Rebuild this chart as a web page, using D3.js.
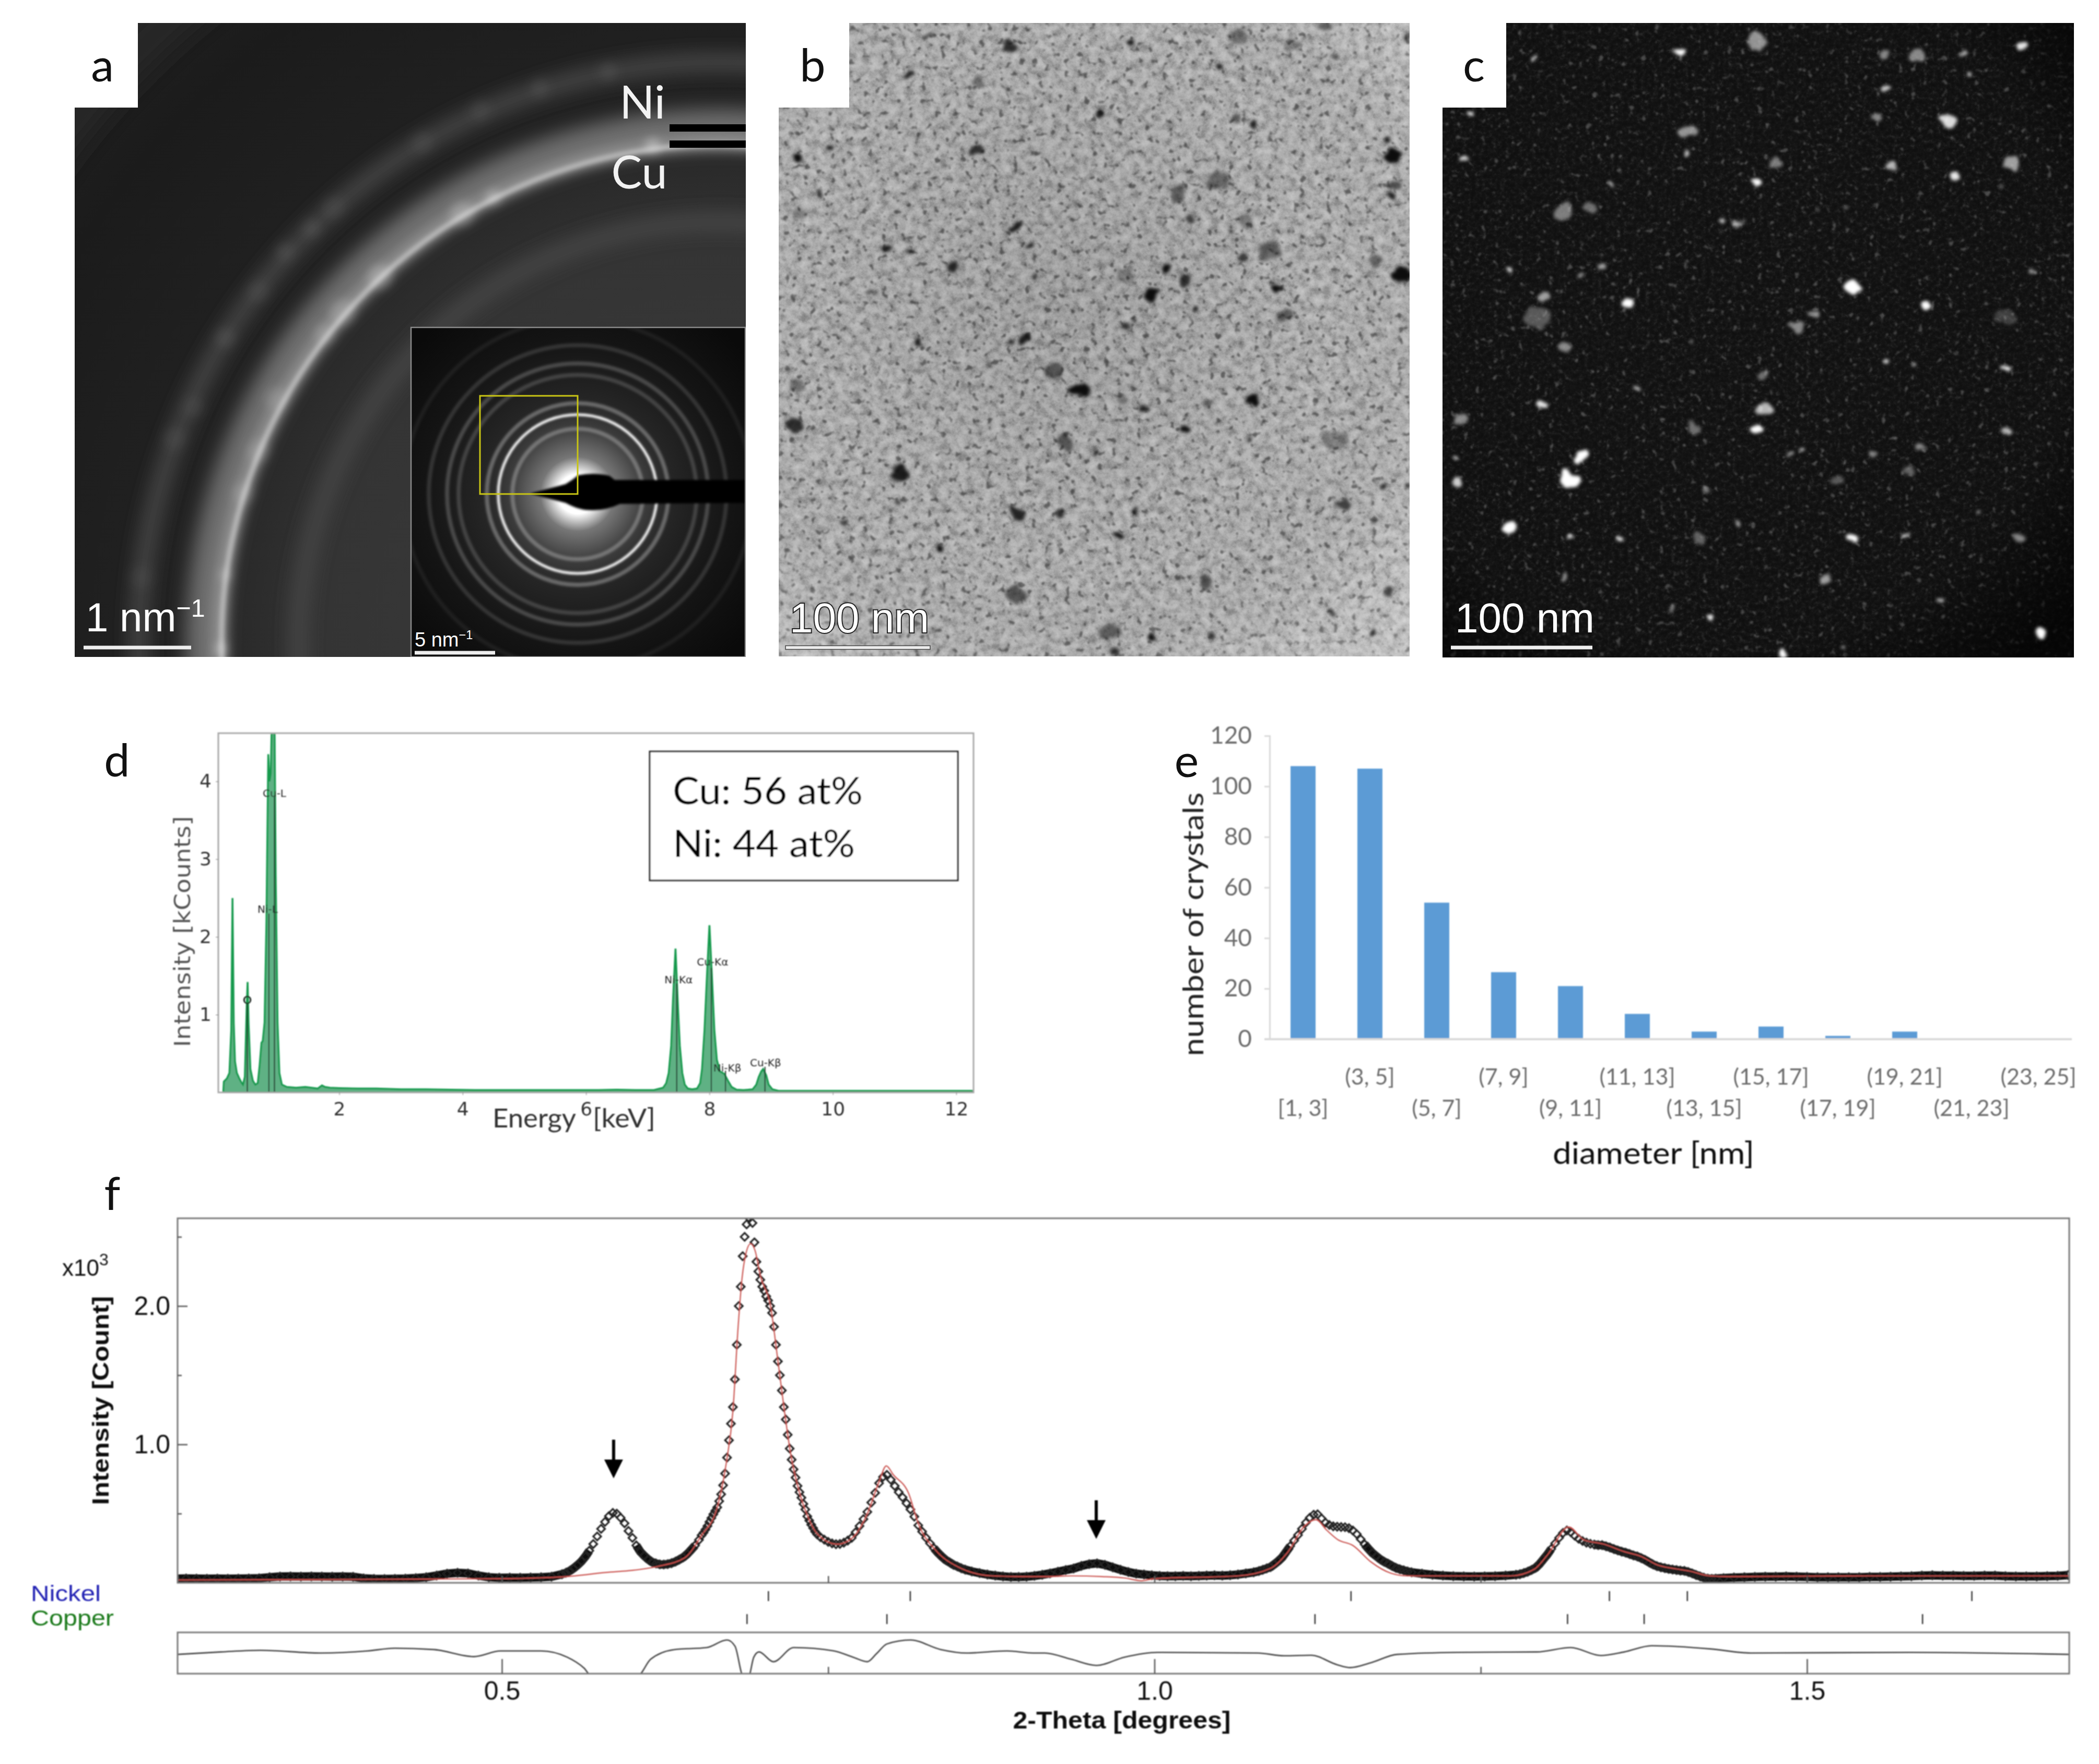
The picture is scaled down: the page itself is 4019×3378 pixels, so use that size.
<!DOCTYPE html>
<html>
<head>
<meta charset="utf-8">
<script src="https://cdn.jsdelivr.net/npm/d3@7"></script>
<style>
	html, body { margin: 0; padding: 0; background: #fff; }
	svg { display: block; }
	text { font-family: Lato, sans-serif; }
	.arial text, text.arial { font-family: "Liberation Sans", Arial, sans-serif; }
</style>
</head>
<body>
<div id="chart"></div>
<script>
// panel d: EDX spectrum
var specEnergy = [.12,.13,.18,.22,.25,.27,.29,.31,.34,.38,.42,.44,.47,.5,.515,.53,.56,.6,.64,.68,.71,.74,.76,.79,.82,.85,.87,.89,.91,.93,.95,.97,1,1.03,1.07,1.15,1.3,1.45,1.55,1.65,1.72,1.77,1.85,2,2.3,2.6,3,3.4,3.8,4.2,4.6,5,5.4,5.8,6.2,6.5,6.8,7.1,7.25,7.3,7.34,7.38,7.41,7.45,7.49,7.52,7.56,7.6,7.65,7.72,7.8,7.85,7.88,7.92,7.96,8,8.04,8.08,8.12,8.17,8.24,8.3,8.36,8.44,8.55,8.7,8.76,8.8,8.84,8.87,8.92,8.96,9.02,9.12,9.5,10,11,12,12.28];
var specCounts = [0,.14,.18,.25,.8,2.5,.9,.4,.25,.18,.12,.1,.2,1.1,1.42,.9,.3,.15,.1,.12,.35,.64,.66,.9,2.2,4.35,4,4.1,4.9,5.2,4.9,2.8,.9,.25,.1,.07,.06,.07,.06,.05,.09,.07,.06,.055,.05,.05,.04,.04,.035,.03,.03,.03,.03,.03,.03,.035,.03,.03,.06,.12,.25,.6,1.2,1.85,1.1,.6,.25,.1,.05,.04,.05,.12,.3,.8,1.5,2.15,1.5,.8,.42,.27,.24,.15,.07,.035,.03,.04,.1,.2,.27,.3,.22,.1,.04,.02,.02,.02,.02,.02,.02];
var lineNames = ['O', 'Ni-L', 'Cu-L', 'Ni-K\u03b1', 'Cu-K\u03b1', 'Ni-K\u03b2', 'Cu-K\u03b2'];
var lineEnergy = [.51, .86, .95, 7.47, 8.03, 8.26, 8.9];
var lineTop = [1.15, 2.3, 3.8, 1.4, 1.6, .28, .33];
var lineLabelX = [.51, .84, .95, 7.5, 8.05, 8.29, 8.91];
var lineLabelY = [1.19, 2.36, 3.85, 1.45, 1.68, .316, .386];

// panel e: size histogram
var sizeBins = ['[1, 3]','(3, 5]','(5, 7]','(7, 9]','(9, 11]','(11, 13]','(13, 15]','(15, 17]','(17, 19]','(19, 21]','(21, 23]','(23, 25]'];
var sizeCounts = [108, 107, 54, 26.5, 21, 10, 3, 5, 1.3, 3, 0, 0];

var obsFlat1 = [.030,.031,.030,.029,.030,.029,.030,.031,.033,.040,.045,.046,.045,.046,.045,.044,.045,.043,.032,.028,.027,.028,.030,.034,.040,.052,.066,.072,.068,.052,.040,.036,.037,.036,.038,.040,.044];
var obsPeak1 = [.062,.072,.086,.105,.128,.155,.190,.232,.280,.335,.390,.440,.482,.505,.500,.470,.430,.375,.325,.270,.225,.195,.170,.150,.140,.133,.132,.135,.142,.153,.168,.184,.208,.238,.270,.310];
var obsMain = [.343,.362,.385,.410,.440,.468,.495,.520,.545,.590,.640,.705,.790,.905,1.03,1.15,1.27,1.47,1.72,2.00,2.14,2.36,2.50,2.59,2.64,2.68,2.60,2.46,2.32,2.25,2.19,2.14,2.11,2.07,2.04,2.00,1.95,1.85,1.72,1.60,1.50,1.39,1.27,1.18,1.07,.97,.89,.82,.76,.70,.655,.615,.570,.530,.480,.450,.420,.395,.370,.350];
var obsPeak2 = [.330,.312,.296,.285,.279,.281,.290,.305,.325,.365,.410,.460,.512,.580,.650,.720,.765,.780,.745,.700,.655,.618,.575,.530,.478,.415,.370,.325,.285,.250,.218,.190,.165,.148,.130,.118,.105,.095];
var obsBump = [.082,.070,.060,.052,.046,.042,.042,.044,.050,.058,.068,.080,.092,.103,.122,.135,.140,.130,.112,.094,.078,.066,.060,.054,.050,.048,.048,.050,.048,.050,.052,.054,.052,.055,.060,.068,.076];
var obsPeak3 = [.085,.094,.104,.114,.135,.158,.185,.225,.265,.305,.345,.390,.435,.470,.492,.495,.465,.435,.418,.408,.405,.403,.402,.395,.378,.352,.315,.278,.245,.215,.192,.170,.152,.138,.122,.108,.098,.090,.082,.076];
var obsFlat2 = [.066,.058,.052,.048,.046,.045,.046,.048,.052,.058];
var obsPeak4 = [.062,.070,.080,.093,.108,.135,.170,.204,.245,.285,.325,.360,.378,.365,.340,.318,.302,.290,.282,.276,.272,.272,.264,.255,.244,.234,.225,.218,.208,.198,.190,.178,.165,.148,.132,.120,.112,.106,.100,.096,.092,.088,.086,.078,.068,.056,.046,.036,.030,.028,.030];
var obsFlat3 = [.034,.038,.040,.042,.044,.044,.046,.044,.042,.040,.040,.040,.040,.040,.042,.042,.044,.046,.048,.052,.054,.052,.052,.050,.050,.052,.052,.048,.046,.046,.046,.048,.050,.056];

// panel f: fitted curve
var calcTheta = [.2515,.4,.5,.55,.58,.6,.62,.64,.653,.665,.672,.677,.681,.684,.687,.6905,.694,.698,.706,.711,.7165,.7213,.728,.734,.742,.757,.768,.78,.789,.7945,.80,.8117,.819,.8325,.8485,.876,.90,.92,.936,.96,.977,.99,1.0,1.064,1.089,1.102,1.115,1.1237,1.132,1.1403,1.152,1.166,1.181,1.194,1.273,1.291,1.301,1.3175,1.329,1.344,1.36,1.373,1.385,1.40,1.41,1.425,1.44,1.55,1.7009];
var calcValues = [.02,.025,.03,.045,.075,.09,.12,.18,.343,.545,.87,1.24,1.85,2.2,2.38,2.45,2.4,2.22,1.99,1.64,1.24,.93,.653,.487,.35,.279,.32,.5,.73,.845,.78,.645,.43,.234,.12,.05,.045,.045,.05,.045,.035,.015,.03,.05,.105,.22,.41,.456,.38,.313,.27,.15,.07,.05,.05,.098,.2,.403,.31,.28,.225,.19,.13,.1,.085,.05,.045,.05,.05];

// panel f: residual
var diffTheta = [.2515,.285,.315,.361,.397,.418,.448,.4785,.499,.53,.55,.563,.569,.6036,.614,.632,.657,.6725,.6786,.685,.689,.693,.697,.708,.7236,.754,.769,.78,.787,.795,.813,.836,.856,.887,.907,.9158,.936,.9556,.977,1.0026,1.079,1.0995,1.12,1.14,1.15,1.166,1.186,1.232,1.293,1.319,1.342,1.36,1.381,1.426,1.457,1.579,1.7009];
var diffValues = [-.01,.008,.02,0,.015,.035,.025,-.026,.015,.015,-.03,-.11,-.17,-.17,-.045,.025,.04,.095,.05,-.17,-.17,-.03,.008,-.063,.04,.016,-.03,-.063,-.005,.066,.095,.026,0,.015,0,0,-.045,-.09,-.03,.005,0,-.02,-.016,-.085,-.106,-.07,-.01,.005,.008,.04,-.018,.008,.053,.03,0,.005,-.01];

// panel f: reflection positions and arrows
var nickelTicks = [.7042, .8129, 1.1506, 1.3486, 1.4083, 1.6263];
var copperTicks = [.6878, .795, 1.123, 1.3165, 1.3752, 1.5885];
var arrowTheta = [.5856, .9554];
var arrowTip = [.755, .317];

// panels a, b, c: micrograph features, [x, y, radius, strength] in crop readings
var ringsWide = [805, 965, 1111, 1590];
var ringsInset = [125, 152, 174, 228, 250, 285, 335];
var ringsInsetTone = [.28, 1, .3, .16, .2, .13, .06];
var ringLumps = [[1065,185,18,.06],[1220,145,18,.06],[930,238,20,.05],[800,315,22,.05],[600,470,22,.05],[550,520,18,.07],[490,575,18,.07],[430,670,22,.05],[355,780,20,.07],[285,945,20,.05],[240,1020,22,.05],[165,1350,22,.04],[960,445,14,.28],[890,485,24,.2],[705,635,24,.22],[620,720,26,.16],[580,770,20,.14],[470,925,22,.12],[430,1050,22,.12],[395,1150,20,.12],[355,1345,10,.25],[345,1520,10,.4],[1320,322,14,.35]];
var darkSpots = [[860,62,12,.9],[570,75,14,.8],[372,47,8,.7],[325,140,9,.9],[272,122,5,.8],[490,160,18,.4],[1075,122,7,.9],[1120,50,22,.4],[1250,70,20,.3],[1330,25,14,.5],[1350,100,9,.6],[1520,50,10,.6],[785,238,12,.9],[1155,258,10,.9],[1110,250,15,.5],[1478,300,8,1],[1488,337,20,1],[1495,405,12,.6],[1485,432,10,.9],[1070,395,25,.45],[972,430,20,.5],[1005,488,14,.7],[1135,495,16,.35],[1200,565,26,.45],[1130,585,11,.7],[1318,535,5,.9],[1095,520,5,.8],[1445,590,18,.45],[1510,622,22,1],[1020,705,10,1],[1210,663,10,1],[910,675,16,1],[948,612,14,1],[990,638,12,.8],[870,725,7,1],[850,748,12,.7],[605,778,14,.9],[572,786,8,1],[515,845,6,.9],[678,852,25,.55],[740,900,22,1],[890,945,10,.9],[1150,925,12,1],[990,992,12,1],[1152,1024,6,.9],[770,1050,7,1],[705,1025,20,.55],[305,1105,22,.9],[55,983,22,.8],[60,890,20,.4],[585,1195,18,.85],[695,1198,12,.8],[875,1188,8,1],[835,1250,8,1],[400,1282,10,1],[282,1192,7,.9],[300,1166,6,.9],[170,1218,12,.7],[1370,1175,14,.7],[1465,1128,7,.9],[1480,1385,14,.7],[1445,1218,9,.6],[1438,1478,10,.9],[1040,1365,18,.6],[580,1395,28,.55],[810,1480,22,.5],[820,1530,9,.8],[910,1498,6,1],[1060,1495,8,.8],[1345,1430,10,.7],[1525,1130,7,1],[65,345,10,1],[140,318,8,1],[490,325,16,.8],[340,415,6,1],[112,430,7,.8],[585,510,12,.9],[610,555,8,1],[325,565,12,.7],[430,605,12,.85],[275,565,9,.9],[65,480,18,.3],[630,630,8,.8],[850,625,25,.3],[1230,720,20,.5],[1350,1020,30,.3],[1045,930,15,.4],[940,900,15,.25],[840,920,18,.35],[350,785,8,.9],[240,670,8,.6]];
var brightSpots = [[585,85,14,1],[765,62,22,.55],[230,97,8,.8],[1155,100,20,.5],[1075,95,12,.5],[1410,72,12,.9],[1262,92,6,.7],[1280,142,8,.8],[1080,180,10,.8],[1230,252,22,.85],[1060,245,10,.5],[605,275,18,.55],[600,330,10,.8],[70,343,7,.8],[85,232,8,1],[765,395,11,1],[420,408,7,.9],[815,355,14,.45],[1095,360,12,.7],[1380,355,18,.6],[1245,388,9,.9],[1365,405,7,.5],[310,470,20,.45],[370,465,16,.4],[725,497,14,.6],[685,492,8,.8],[985,460,6,.5],[910,465,5,.5],[175,608,7,.9],[400,608,12,.6],[352,625,8,.5],[260,675,14,.6],[245,725,32,.3],[310,800,18,.5],[465,688,14,1],[1000,650,22,1],[1178,695,12,1],[905,718,14,.55],[865,745,14,.5],[1365,725,25,.2],[783,865,10,.4],[785,948,16,.7],[768,992,15,1],[620,990,16,.4],[252,932,12,.9],[60,970,16,.5],[350,1060,14,1],[320,1115,26,1],[55,1122,10,.8],[52,1060,5,1],[175,1232,18,1],[325,1252,10,.8],[435,1258,10,.9],[1000,1255,16,1],[1125,1242,8,.8],[1398,1250,14,.5],[935,1357,14,.6],[660,1440,8,1],[1450,1488,14,1],[835,1532,12,1],[1215,1405,8,.7],[1368,995,12,.7],[1165,1035,10,.5],[1050,1058,12,.5],[878,1045,7,.9],[845,1052,5,.7],[1080,830,6,.9],[1150,843,5,.9],[1368,842,6,1],[1430,615,6,.6],[485,900,6,.9],[630,1252,14,.35],[728,1218,6,.6],[965,1120,16,.3],[1140,1095,14,.35],[1300,1192,6,.8],[305,1350,8,.6],[565,1428,7,.6],[975,1515,6,.9],[650,1140,7,.5],[615,782,4,.7]];

function stretch(start, step, values) {
	return values.map(function(v, i) { return [start + i * step, v]; });
}

var observed = [].concat(
	stretch(.25, .008, obsFlat1),
	stretch(.546, .003, obsPeak1),
	stretch(.653, .0015, obsMain),
	stretch(.744, .003, obsPeak2),
	stretch(.86, .006, obsBump),
	stretch(1.08, .003, obsPeak3),
	stretch(1.205, .008, obsFlat2),
	stretch(1.28, .003, obsPeak4),
	stretch(1.436, .008, obsFlat3)
);

var svg = d3.select('#chart').append('svg')
	.attr('width', 4019)
	.attr('height', 3378)
	.attr('viewBox', '0 0 4019 3378');
var defs = svg.append('defs');

function addBlur(id, dev) {
	defs.append('filter').attr('id', id)
		.attr('filterUnits', 'userSpaceOnUse')
		.attr('x', 0).attr('y', 0).attr('width', 4019).attr('height', 3378)
		.append('feGaussianBlur').attr('stdDeviation', dev);
}
addBlur('soft', 1.3);
addBlur('b4', 4);
addBlur('b9', 10);
addBlur('b14', 18);
addBlur('b28', 30);
addBlur('b2', 2.2);
addBlur('lump', 9);

// crystals are not round: roughen their outline, then soften it
(function() {
	var f = defs.append('filter').attr('id', 'rough')
		.attr('filterUnits', 'userSpaceOnUse')
		.attr('x', 0).attr('y', 0).attr('width', 4019).attr('height', 3378)
		.attr('color-interpolation-filters', 'sRGB');
	f.append('feTurbulence').attr('type', 'fractalNoise')
		.attr('baseFrequency', .035).attr('numOctaves', 2).attr('seed', 5).attr('result', 'n');
	f.append('feDisplacementMap').attr('in', 'SourceGraphic').attr('in2', 'n')
		.attr('scale', 26).attr('xChannelSelector', 'R').attr('yChannelSelector', 'G');
	f.append('feGaussianBlur').attr('stdDeviation', 3);
})();

function addGrain(id, freq, octaves, seed, table) {
	var f = defs.append('filter').attr('id', id)
		.attr('x', 0).attr('y', 0).attr('width', '100%').attr('height', '100%')
		.attr('color-interpolation-filters', 'sRGB');
	f.append('feTurbulence').attr('type', 'fractalNoise')
		.attr('baseFrequency', freq).attr('numOctaves', octaves).attr('seed', seed);
	f.append('feColorMatrix').attr('type', 'matrix')
		.attr('values', '1 0 0 0 0  1 0 0 0 0  1 0 0 0 0  0 0 0 0 1');
	var ct = f.append('feComponentTransfer');
	['feFuncR', 'feFuncG', 'feFuncB'].forEach(function(n) {
		ct.append(n).attr('type', 'table').attr('tableValues', table);
	});
}
// isolated grains: alpha opens only where the noise passes a threshold
function addSpecks(id, freq, seed, color, gain, offset) {
	var f = defs.append('filter').attr('id', id)
		.attr('x', 0).attr('y', 0).attr('width', '100%').attr('height', '100%')
		.attr('color-interpolation-filters', 'sRGB');
	f.append('feTurbulence').attr('type', 'fractalNoise')
		.attr('baseFrequency', freq).attr('numOctaves', 2).attr('seed', seed);
	f.append('feColorMatrix').attr('type', 'matrix')
		.attr('values', [0, 0, 0, 0, color, 0, 0, 0, 0, color, 0, 0, 0, 0, color, gain, 0, 0, 0, offset].join(' '));
	f.append('feGaussianBlur').attr('stdDeviation', 1.8);
}
addGrain('grainB', .06, 4, 7, '.50 .54 .58 .64 .69 .73 .76 .79 .81');
addGrain('grainC', .12, 3, 11, '.06 .06 .065 .07 .08 .095 .12 .16 .18');

function addClip(id, x, y, w, h) {
	defs.append('clipPath').attr('id', id).append('rect')
		.attr('x', x).attr('y', y).attr('width', w).attr('height', h);
}

function panelLetter(letter, x, y) {
	svg.append('text').text(letter)
		.attr('x', x).attr('y', y)
		.attr('font-size', 88)
		.attr('text-anchor', 'middle')
		.attr('fill', '#111');
}

function scaleBar(g, x0, x1, y, label, textX, textY, size, outlined) {
	g.append('rect').attr('x', x0).attr('y', y - 3.5).attr('width', x1 - x0).attr('height', 7)
		.attr('fill', '#eee').attr('stroke', outlined ? '#444' : 'none').attr('stroke-width', outlined ? 1.5 : 0);
	var t = g.append('text').attr('class', 'arial')
		.attr('x', textX).attr('y', textY)
		.attr('font-size', size)
		.attr('fill', '#fff');
	if (outlined) {
		t.attr('stroke', '#222').attr('stroke-width', 4).attr('paint-order', 'stroke');
	}
	t.append('tspan').text(label[0]);
	if (label[1]) {
		t.append('tspan').text(label[1]).attr('font-size', size * .62).attr('dy', -size * .36);
	}
}

// ---- panel a ----
(function() {
	var left = 143, right = 1428, top = 44, bottom = 1258;
	var cx = 1377, cy = 1230;
	addClip('clipA', left, top, right - left, bottom - top);
	var grad = defs.append('radialGradient').attr('id', 'gradA').attr('gradientUnits', 'userSpaceOnUse')
		.attr('cx', cx).attr('cy', cy).attr('r', 1800);
	[[0, '#3e3e3e'], [.42, '#343434'], [.58, '#222'], [.8, '#1b1b1b'], [1, '#242424']].forEach(function(s) {
		grad.append('stop').attr('offset', s[0]).attr('stop-color', s[1]);
	});
	var g = svg.append('g').attr('clip-path', 'url(#clipA)');
	g.append('rect').attr('x', left).attr('y', top).attr('width', right - left).attr('height', bottom - top)
		.attr('fill', 'url(#gradA)');

	function ring(r, w, tone, filter) {
		g.append('circle').attr('cx', cx).attr('cy', cy).attr('r', r)
			.attr('fill', 'none').attr('stroke', tone).attr('stroke-width', w)
			.attr('filter', 'url(#' + filter + ')');
	}
	ring(ringsWide[0], 30, '#4a4a4a', 'b14');
	ring(ringsWide[1] + 20, 70, '#6e6e6e', 'b14');
	ring(ringsWide[1] - 6, 30, '#8e8e8e', 'b9');
	ring(ringsWide[1] - 12, 8, '#c4c4c4', 'b4');
	ring(ringsWide[2], 30, '#4c4c4c', 'b14');
	ring(ringsWide[3], 60, '#2c2c2c', 'b28');

	// brighter patches along the rings
	var lx = d3.scaleLinear().domain([0, 1568]).range([130, 1460]);
	var ly = d3.scaleLinear().domain([0, 1568]).range([20, 1280]);
	g.append('g').attr('filter', 'url(#lump)')
		.selectAll('ellipse').data(ringLumps).enter().append('ellipse')
		.attr('cx', function(d) { return lx(d[0]); })
		.attr('cy', function(d) { return ly(d[1]); })
		.attr('rx', function(d) { return d[2]; })
		.attr('ry', function(d) { return d[2]; })
		.attr('fill', '#fff')
		.attr('fill-opacity', function(d) { return d[3]; });

	// Ni / Cu bars
	[245, 276].forEach(function(y) {
		g.append('rect').attr('x', 1282).attr('y', y - 7).attr('width', 146).attr('height', 14).attr('fill', '#000');
	});

	// inset pattern
	var ix = 787, iy = 627, iw = 640, ih = 631, icx = 1106, icy = 946;
	addClip('clipI', ix, iy, iw, ih);
	var ig = g.append('g').attr('clip-path', 'url(#clipI)');
	var igrad = defs.append('radialGradient').attr('id', 'gradI').attr('gradientUnits', 'userSpaceOnUse')
		.attr('cx', icx).attr('cy', icy).attr('r', 420);
	[[0, '#fff'], [.09, '#fff'], [.17, '#777'], [.3, '#3e3e3e'], [.42, '#262626'], [.7, '#141414'], [1, '#0a0a0a']].forEach(function(s) {
		igrad.append('stop').attr('offset', s[0]).attr('stop-color', s[1]);
	});
	ig.append('rect').attr('x', ix).attr('y', iy).attr('width', iw).attr('height', ih).attr('fill', 'url(#gradI)');
	ig.selectAll('circle.r').data(ringsInset).enter().append('circle').attr('class', 'r')
		.attr('cx', icx).attr('cy', icy)
		.attr('r', function(d) { return d; })
		.attr('fill', 'none')
		.attr('stroke', '#fff')
		.attr('stroke-opacity', function(d, i) { return ringsInsetTone[i]; })
		.attr('stroke-width', function(d, i) { return i === 1 ? 5 : 8; })
		.attr('filter', 'url(#b2)');
	// beam stop
	ig.append('path').attr('fill', '#000').attr('filter', 'url(#b2)')
		.attr('d', 'M1015,945 L1083,927 Q1095,920 1107,910 Q1137,904 1167,911 L1177,919 L1430,919 L1430,963 L1187,965 Q1160,978 1133,977 Q1110,978 1083,963 L1040,952 Z');
	ig.append('rect').attr('x', 919).attr('y', 758).attr('width', 187).attr('height', 188)
		.attr('fill', 'none').attr('stroke', '#c8c414').attr('stroke-width', 3);
	scaleBar(ig, 794, 948, 1250, ['5 nm', '\u22121'], 794, 1238, 38, false);
	g.append('rect').attr('x', ix).attr('y', iy).attr('width', iw).attr('height', ih)
		.attr('fill', 'none').attr('stroke', '#8a8a8a').attr('stroke-width', 2.5);

	scaleBar(g, 160, 366, 1240, ['1 nm', '\u22121'], 164, 1209, 78, false);

	svg.append('rect').attr('x', left).attr('y', top - 2).attr('width', 121).attr('height', 164).attr('fill', '#fff');
	panelLetter('a', 196, 156);
	[['Ni', 1230, 227], ['Cu', 1224, 361]].forEach(function(d) {
		svg.append('text').text(d[0])
			.attr('x', d[1]).attr('y', d[2])
			.attr('text-anchor', 'middle')
			.attr('font-size', 88)
			.attr('fill', '#f2f2f2');
	});
})();

// ---- panels b and c share this ----
function micrograph(o) {
	var x = d3.scaleLinear().domain(o.cropX).range([o.left, o.right]);
	var y = d3.scaleLinear().domain(o.cropY).range([o.top, o.bottom]);
	var rs = (o.right - o.left) / (o.cropX[1] - o.cropX[0]);
	addClip(o.id, o.left, o.top, o.right - o.left, o.bottom - o.top);
	var g = svg.append('g').attr('clip-path', 'url(#' + o.id + ')');
	function layer(filter) {
		return g.append('rect').attr('x', o.left).attr('y', o.top)
			.attr('width', o.right - o.left).attr('height', o.bottom - o.top)
			.attr('filter', 'url(#' + filter + ')');
	}
	layer(o.grain);
	layer(o.specks).attr('opacity', o.speckOpacity);
	var grad = defs.append('radialGradient').attr('id', o.id + 'v').attr('gradientUnits', 'userSpaceOnUse')
		.attr('cx', (o.left + o.right) / 2 - 80).attr('cy', (o.top + o.bottom) / 2 - 80).attr('r', 900);
	o.vignette.forEach(function(s) {
		grad.append('stop').attr('offset', s[0]).attr('stop-color', s[1]).attr('stop-opacity', s[2]);
	});
	g.append('rect').attr('x', o.left).attr('y', o.top)
		.attr('width', o.right - o.left).attr('height', o.bottom - o.top)
		.attr('fill', 'url(#' + o.id + 'v)');
	g.append('g').attr('filter', 'url(#rough)')
		.selectAll('ellipse').data(o.spots).enter().append('ellipse')
		.attr('cx', function(d) { return x(d[0]); })
		.attr('cy', function(d) { return y(d[1]); })
		.attr('rx', function(d) { return d[2] * rs; })
		.attr('ry', function(d) { return d[2] * rs * .82; })
		.attr('fill', o.spotColor)
		.attr('fill-opacity', function(d) { return d[3]; });
	scaleBar(g, o.bar[0], o.bar[1], 1240, ['100 nm'], o.bar[0] + 8, 1211, 80, o.outlined);
	svg.append('rect').attr('x', o.left).attr('y', o.top - 2).attr('width', o.notch).attr('height', 164).attr('fill', '#fff');
	panelLetter(o.letter, o.letterX, 156);
}

addSpecks('specksB', .08, 23, .18, -8, 2.95);
addSpecks('specksC', .085, 31, .85, 8, -5.2);

micrograph({
	id: 'clipB', left: 1491, right: 2699, top: 44, bottom: 1257,
	cropX: [14, 1530], cropY: [18, 1540],
	grain: 'grainB', specks: 'specksB', speckOpacity: .6, spots: darkSpots, spotColor: '#0c0c0c',
	vignette: [[0, '#000', .1], [.6, '#000', .02], [.9, '#fff', .12], [1, '#fff', .2]],
	bar: [1504, 1781], outlined: true, notch: 135, letter: 'b', letterX: 1556
});
micrograph({
	id: 'clipC', left: 2762, right: 3971, top: 44, bottom: 1259,
	cropX: [15, 1532], cropY: [18, 1542],
	grain: 'grainC', specks: 'specksC', speckOpacity: .28, spots: brightSpots, spotColor: '#fff',
	vignette: [[0, '#000', 0], [.75, '#000', .05], [1, '#000', .7]],
	bar: [2778, 3049], outlined: false, notch: 122, letter: 'c', letterX: 2822
});

// ---- panel d ----
(function() {
	var left = 418, right = 1864, top = 1404, bottom = 2092;
	var x = d3.scaleLinear().domain([.04, 12.28]).range([left, right]);
	var y = d3.scaleLinear().domain([0, 4.62]).range([bottom, top]);
	var g = svg.append('g').attr('filter', 'url(#soft)');
	addClip('clipD', left, top, right - left, bottom - top);

	var series = d3.zip(specEnergy, specCounts);
	var plot = g.append('g').attr('clip-path', 'url(#clipD)');
	plot.append('path').datum(series)
		.attr('fill', '#5fb184')
		.attr('stroke', '#169a4e')
		.attr('stroke-width', 3.5)
		.attr('d', d3.area().x(function(d) { return x(d[0]); }).y0(y(0)).y1(function(d) { return y(d[1]); }));
	plot.selectAll('line.mark').data(lineEnergy).enter().append('line').attr('class', 'mark')
		.attr('x1', function(d) { return x(d); })
		.attr('x2', function(d) { return x(d); })
		.attr('y1', y(0))
		.attr('y2', function(d, i) { return y(lineTop[i]); })
		.attr('stroke', '#1d2a22')
		.attr('stroke-width', 2);

	g.append('rect').attr('x', left).attr('y', top).attr('width', right - left).attr('height', bottom - top)
		.attr('fill', 'none').attr('stroke', '#a8a8a8').attr('stroke-width', 3);

	g.selectAll('text.peak').data(lineNames).enter().append('text').attr('class', 'peak')
		.text(function(d) { return d; })
		.attr('x', function(d, i) { return x(lineLabelX[i]); })
		.attr('y', function(d, i) { return y(lineLabelY[i]) + 7; })
		.attr('text-anchor', 'middle')
		.attr('font-size', 20)
		.style('font-family', 'DejaVu Sans')
		.attr('fill', '#222');
	g.append('circle').attr('cx', x(lineEnergy[0])).attr('cy', y(lineLabelY[0])).attr('r', 7)
		.attr('fill', 'none').attr('stroke', '#1d2a22').attr('stroke-width', 1.5);

	var xAxis = g.append('g').attr('transform', 'translate(0,' + bottom + ')')
		.call(d3.axisBottom(x).tickValues([2, 4, 6, 8, 10, 12]).tickFormat(d3.format('d')).tickSize(5).tickPadding(13));
	var yAxis = g.append('g').attr('transform', 'translate(' + left + ',0)')
		.call(d3.axisLeft(y).tickValues([1, 2, 3, 4]).tickFormat(d3.format('d')).tickSize(5).tickPadding(8));
	[xAxis, yAxis].forEach(function(a) {
		a.select('.domain').remove();
		a.selectAll('line').attr('stroke', '#777');
		a.selectAll('text').attr('font-size', 36).attr('fill', '#333').style('font-family', 'DejaVu Sans');
	});

	g.append('text').text('Intensity [kCounts]')
		.attr('transform', 'translate(364,1784) rotate(-90)')
		.attr('text-anchor', 'middle')
		.attr('font-size', 42)
		.attr('textLength', 442).attr('lengthAdjust', 'spacingAndGlyphs')
		.style('font-family', 'DejaVu Sans')
		.attr('fill', '#555');
	g.append('text').text('Energy')
		.attr('x', 943).attr('y', 2159)
		.attr('font-size', 50)
		.attr('textLength', 160).attr('lengthAdjust', 'spacingAndGlyphs')
		.attr('fill', '#333');
	g.append('text').text('[keV]')
		.attr('x', 1135).attr('y', 2159)
		.attr('font-size', 50)
		.attr('textLength', 120).attr('lengthAdjust', 'spacingAndGlyphs')
		.attr('fill', '#333');

	g.append('rect').attr('x', 1244).attr('y', 1439).attr('width', 590).attr('height', 247)
		.attr('fill', '#fff').attr('stroke', '#222').attr('stroke-width', 3);
	[['Cu: 56 at%', 1540, 364], ['Ni: 44 at%', 1641, 349]].forEach(function(d) {
		g.append('text').text(d[0])
			.attr('x', 1288).attr('y', d[1])
			.attr('font-size', 72)
			.attr('textLength', d[2]).attr('lengthAdjust', 'spacingAndGlyphs')
			.attr('fill', '#000');
	});
	panelLetter('d', 224, 1487);
})();

// ---- panel e ----
(function() {
	var left = 2431, right = 3967, top = 1409, bottom = 1990;
	var x = d3.scaleBand().domain(sizeBins).range([left, right]).paddingInner(.625).paddingOuter(.3125);
	var y = d3.scaleLinear().domain([0, 120]).range([bottom, top]);
	var g = svg.append('g').attr('filter', 'url(#soft)');

	g.selectAll('rect.bar').data(sizeCounts).enter().append('rect').attr('class', 'bar')
		.attr('x', function(d, i) { return x(sizeBins[i]); })
		.attr('y', function(d) { return y(d); })
		.attr('width', x.bandwidth())
		.attr('height', function(d) { return y(0) - y(d); })
		.attr('fill', '#5b9bd5');

	var xAxis = g.append('g').attr('transform', 'translate(0,' + bottom + ')')
		.call(d3.axisBottom(x).tickSize(0));
	xAxis.select('.domain').attr('stroke', '#d9d9d9').attr('stroke-width', 4).attr('d', 'M2421,0H3967');
	xAxis.selectAll('text')
		.attr('y', function(d, i) { return i % 2 ? 87 : 147; })
		.attr('dy', 0)
		.attr('font-size', 43)
		.attr('fill', '#6c6c6c');

	var yAxis = g.append('g').attr('transform', 'translate(' + left + ',0)')
		.call(d3.axisLeft(y).tickValues(d3.range(0, 121, 20)).tickSize(10).tickPadding(24));
	yAxis.select('.domain').attr('stroke', '#d9d9d9').attr('stroke-width', 3);
	yAxis.selectAll('line').attr('stroke', '#d9d9d9').attr('stroke-width', 3);
	yAxis.selectAll('text').attr('font-size', 46).attr('fill', '#6c6c6c');

	g.append('text').text('number of crystals')
		.attr('transform', 'translate(2304,1770) rotate(-90)')
		.attr('text-anchor', 'middle')
		.attr('font-size', 54)
		.attr('textLength', 505).attr('lengthAdjust', 'spacingAndGlyphs')
		.attr('fill', '#222');
	g.append('text').text('diameter [nm]')
		.attr('x', 3166).attr('y', 2229)
		.attr('text-anchor', 'middle')
		.attr('font-size', 58)
		.attr('textLength', 386).attr('lengthAdjust', 'spacingAndGlyphs')
		.attr('fill', '#111');
	panelLetter('e', 2272, 1488);
})();

// ---- panel f ----
(function() {
	var left = 340, right = 3962, top = 2333, bottom = 3031, dTop = 3126, dBottom = 3205;
	var x = d3.scaleLinear().domain([.2515, 1.7009]).range([left, right]);
	var y = d3.scaleLinear().domain([0, 2.634]).range([bottom, top]);
	var yd = d3.scaleLinear().domain([-.15, .15]).range([dBottom, dTop]);
	var g = svg.append('g').attr('class', 'arial').attr('filter', 'url(#soft)');
	addClip('clipF', left, top, right - left, bottom - top);
	addClip('clipR', left, dTop, right - left, dBottom - dTop);

	var plot = g.append('g').attr('clip-path', 'url(#clipF)');
	// the low stretches of the trace read as one solid band
	plot.append('path').datum(observed)
		.attr('fill', 'none').attr('stroke', '#0a0a0a').attr('stroke-width', 16)
		.attr('d', d3.line()
			.defined(function(d) { return d[1] < .28; })
			.x(function(d) { return x(d[0]); })
			.y(function(d) { return y(d[1]); }));
	plot.selectAll('path.obs').data(observed).enter().append('path').attr('class', 'obs')
		.attr('d', d3.symbol().type(d3.symbolSquare).size(115))
		.attr('transform', function(d) { return 'translate(' + x(d[0]) + ',' + y(d[1]) + ') rotate(45)'; })
		.attr('fill', 'none')
		.attr('stroke', '#222')
		.attr('stroke-width', 3.2);
	plot.append('path').datum(d3.zip(calcTheta, calcValues))
		.attr('fill', 'none').attr('stroke', '#c9504c').attr('stroke-width', 2.2)
		.attr('d', d3.line().curve(d3.curveMonotoneX).x(function(d) { return x(d[0]); }).y(function(d) { return y(d[1]); }));

	g.append('rect').attr('x', left).attr('y', top).attr('width', right - left).attr('height', bottom - top)
		.attr('fill', 'none').attr('stroke', '#777').attr('stroke-width', 3);

	// arrows
	arrowTheta.forEach(function(t, i) {
		var px = x(t), tip = y(arrowTip[i]);
		g.append('line').attr('x1', px).attr('x2', px).attr('y1', tip - 74).attr('y2', tip - 20)
			.attr('stroke', '#000').attr('stroke-width', 6);
		g.append('path').attr('fill', '#000')
			.attr('d', 'M' + (px - 18) + ',' + (tip - 36) + 'H' + (px + 18) + 'L' + px + ',' + tip + 'Z');
	});

	// frame ticks
	var yMajor = g.append('g').attr('transform', 'translate(' + left + ',0)')
		.call(d3.axisLeft(y).tickValues([1, 2]).tickFormat(d3.format('.1f')).tickSize(-19).tickPadding(14));
	yMajor.selectAll('text').attr('font-size', 50).attr('fill', '#111');
	var yMinor = g.append('g').attr('transform', 'translate(' + left + ',0)')
		.call(d3.axisLeft(y).tickValues([.5, 1.5, 2.5]).tickFormat('').tickSize(-8));
	var xTop = g.append('g').attr('transform', 'translate(0,' + bottom + ')')
		.call(d3.axisBottom(x).tickValues([.5, .75, 1, 1.25, 1.5]).tickFormat('').tickSize(-13));
	[yMajor, yMinor, xTop].forEach(function(a) {
		a.select('.domain').remove();
		a.selectAll('line').attr('stroke', '#555').attr('stroke-width', 2.5);
	});

	// reflection ticks
	[[nickelTicks, 3047, 3066], [copperTicks, 3091, 3110]].forEach(function(row) {
		g.selectAll(null).data(row[0]).enter().append('line')
			.attr('x1', function(d) { return x(d); })
			.attr('x2', function(d) { return x(d); })
			.attr('y1', row[1]).attr('y2', row[2])
			.attr('stroke', '#333').attr('stroke-width', 2.5);
	});

	// residual panel
	g.append('g').attr('clip-path', 'url(#clipR)').append('path').datum(d3.zip(diffTheta, diffValues))
		.attr('fill', 'none').attr('stroke', '#444').attr('stroke-width', 2.6)
		.attr('d', d3.line().curve(d3.curveMonotoneX).x(function(d) { return x(d[0]); }).y(function(d) { return yd(d[1]); }));
	g.append('rect').attr('x', left).attr('y', dTop).attr('width', right - left).attr('height', dBottom - dTop)
		.attr('fill', 'none').attr('stroke', '#777').attr('stroke-width', 3);
	var xMajor = g.append('g').attr('transform', 'translate(0,' + dBottom + ')')
		.call(d3.axisBottom(x).tickValues([.5, 1, 1.5]).tickFormat(d3.format('.1f')).tickSize(-28).tickPadding(14));
	xMajor.select('.domain').remove();
	xMajor.selectAll('line').attr('stroke', '#555').attr('stroke-width', 2.5);
	xMajor.selectAll('text').attr('font-size', 50).attr('fill', '#111');
	var xMinor = g.append('g').attr('transform', 'translate(0,' + dBottom + ')')
		.call(d3.axisBottom(x).tickValues([.75, 1.25]).tickFormat('').tickSize(-13));
	xMinor.select('.domain').remove();
	xMinor.selectAll('line').attr('stroke', '#555').attr('stroke-width', 2.5);

	// labels
	var mult = g.append('text').attr('x', 119).attr('y', 2443).attr('font-size', 44).attr('fill', '#111');
	mult.append('tspan').text('x10');
	mult.append('tspan').text('3').attr('font-size', 32).attr('dy', -20);
	g.append('text').text('Intensity [Count]')
		.attr('transform', 'translate(208,2682) rotate(-90)')
		.attr('text-anchor', 'middle')
		.attr('font-size', 44).attr('font-weight', 700)
		.attr('textLength', 400).attr('lengthAdjust', 'spacingAndGlyphs')
		.attr('fill', '#111');
	g.append('text').text('2-Theta [degrees]')
		.attr('x', 2148).attr('y', 3310)
		.attr('text-anchor', 'middle')
		.attr('font-size', 46).attr('font-weight', 700)
		.attr('textLength', 417).attr('lengthAdjust', 'spacingAndGlyphs')
		.attr('fill', '#111');
	g.append('text').text('Nickel')
		.attr('x', 59).attr('y', 3066)
		.attr('font-size', 42).attr('textLength', 134).attr('lengthAdjust', 'spacingAndGlyphs')
		.attr('fill', '#2222b4');
	g.append('text').text('Copper')
		.attr('x', 59).attr('y', 3113)
		.attr('font-size', 42).attr('textLength', 159).attr('lengthAdjust', 'spacingAndGlyphs')
		.attr('fill', '#1b7a1b');
	panelLetter('f', 215, 2317);
})();
</script>
</body>
</html>
